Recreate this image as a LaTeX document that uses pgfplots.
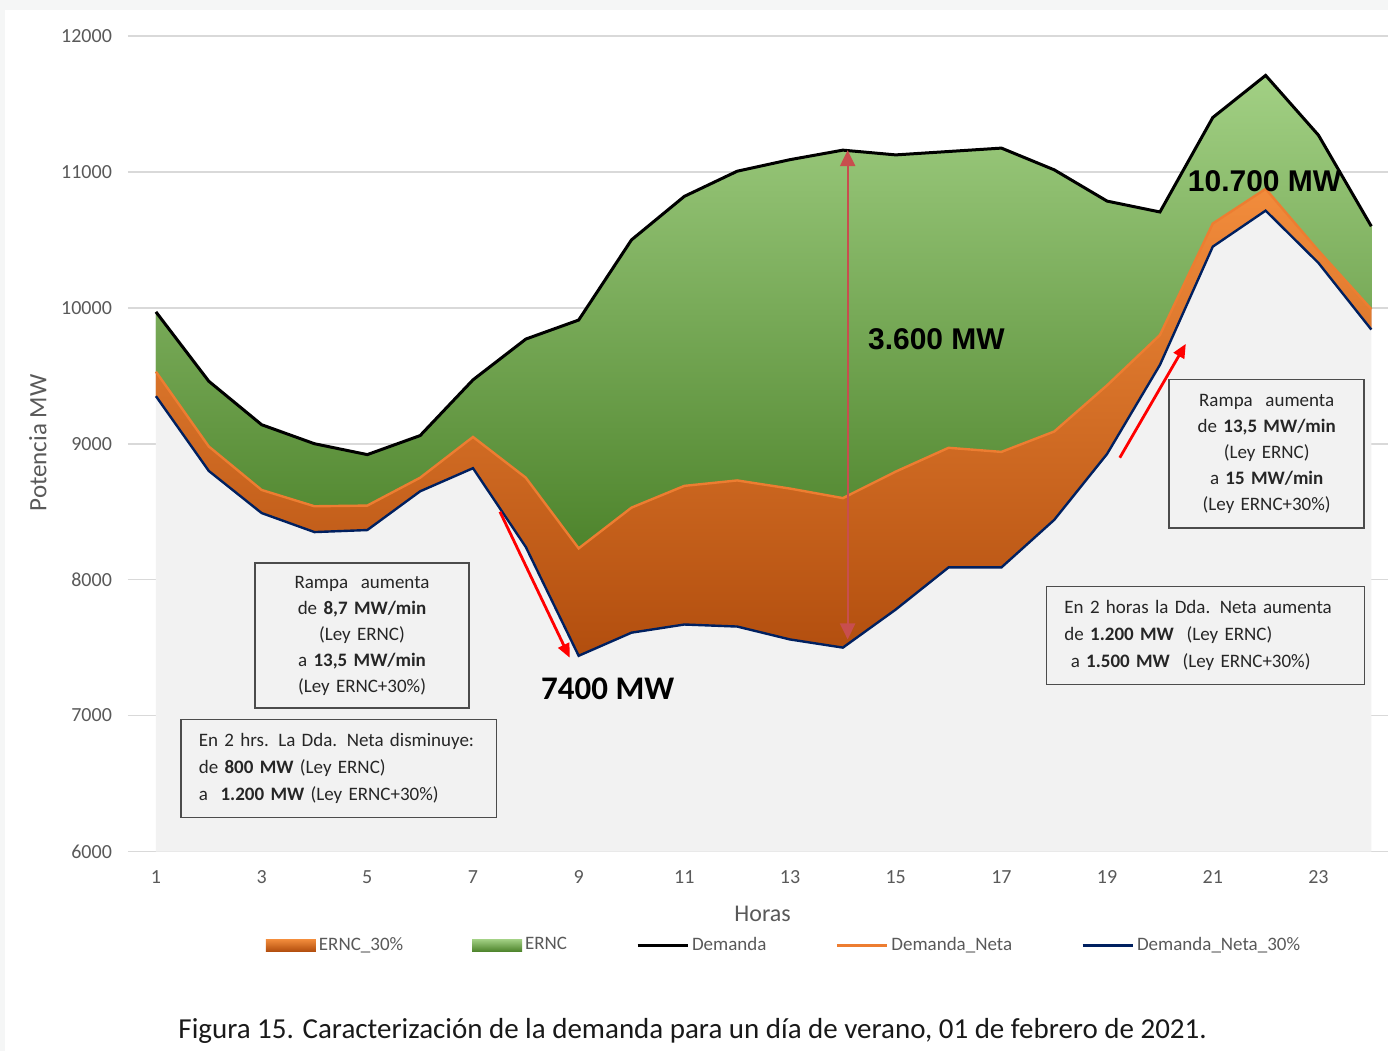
\documentclass[border=0pt]{standalone}
\usepackage{fontspec}
\setmainfont{Carlito}
\newfontfamily\arialfont{Liberation Sans}
\usepackage{pgfplots}
\usepackage{pgfplotstable}
\pgfplotsset{compat=1.18}
\usepgfplotslibrary{fillbetween}
\usetikzlibrary{arrows.meta}

\definecolor{txtgray}{RGB}{89,89,89}
\definecolor{gridgray}{RGB}{217,217,217}
\definecolor{bggray}{RGB}{245,246,246}
\definecolor{basegray}{RGB}{242,242,242}
\definecolor{greentop}{RGB}{162,208,132}
\definecolor{greenbot}{RGB}{78,132,44}
\definecolor{orangetop}{RGB}{242,140,60}
\definecolor{orangebot}{RGB}{178,78,14}
\definecolor{netaorange}{RGB}{237,125,49}
\definecolor{navy}{RGB}{0,32,96}
\definecolor{arrowrose}{RGB}{200,78,78}

% hora, Demanda, Demanda_Neta, Demanda_Neta_30%
\pgfplotstableread{
h dem dn dn30
1 9970 9530 9350
2 9460 8980 8800
3 9140 8660 8490
4 9000 8540 8350
5 8920 8545 8365
6 9060 8750 8650
7 9470 9050 8820
8 9770 8750 8240
9 9910 8230 7440
10 10500 8530 7610
11 10820 8690 7670
12 11005 8730 7655
13 11090 8670 7560
14 11160 8600 7500
15 11125 8795 7780
16 11150 8970 8090
17 11175 8940 8090
18 11015 9090 8440
19 10785 9430 8925
20 10705 9800 9580
21 11400 10620 10450
22 11710 10875 10715
23 11270 10420 10330
24 10600 9990 9840
}\demanda

\begin{document}
\begin{tikzpicture}[x=1pt,y=1pt]
% outer frame strips (top and left), page itself is white
\fill[bggray] (0,521) rectangle (694.5,526);
\fill[bggray] (0,0) rectangle (2.5,526);
\begin{axis}[
    at={(64pt,100pt)}, anchor=south west,
    scale only axis, width=630.5pt, height=408pt,
    xmin=0.47, xmax=24.32, ymin=6000, ymax=12000,
    xtick={1,3,...,23},
    ytick={6000,7000,...,12000},
    scaled y ticks=false,
    axis line style={draw=none},
    major tick length=0pt,
    ymajorgrids, grid style={gridgray, line width=0.8pt},
    /pgf/number format/assume math mode=true,
    /pgf/number format/set thousands separator={},
    tick label style={font=\fontsize{10}{12}\selectfont, text=txtgray},
    yticklabel style={xshift=-4.5pt},
    xticklabel style={yshift=-6pt},
    xlabel={Horas},
    xlabel style={at={(axis description cs:0.5036,-0.076)}, anchor=center,
        font=\fontsize{12}{14}\selectfont, text=txtgray},
    ylabel={Potencia MW},
    ylabel style={at={(axis description cs:-0.0714,0.501)}, anchor=center,
        rotate=0, font=\fontsize{12.5}{14}\selectfont, text=txtgray},
    legend columns=5,
    legend cell align=left,
    legend style={at={(axis description cs:0.521,-0.115)}, anchor=center,
        draw=none, fill=none, font=\fontsize{9.5}{11}\selectfont,
        text=txtgray, nodes={inner sep=1.5pt},
        /tikz/every odd column/.append style={column sep=0pt},
        /tikz/every even column/.append style={column sep=33pt}},
]
% bases (invisible)
\addplot[name path=dem, draw=none, forget plot] table[x=h, y=dem] {\demanda};
\addplot[name path=dn, draw=none, forget plot] table[x=h, y=dn] {\demanda};
\addplot[name path=dn30, draw=none, forget plot] table[x=h, y=dn30] {\demanda};
\addplot[fill=basegray, draw=none, forget plot] table[x=h, y=dn30] {\demanda} \closedcycle;

% areas
\addplot[fill=orangebot, top color=orangetop, bottom color=orangebot,
    legend image code/.code={\fill[draw=none, top color=orangetop, bottom color=orangebot] (0pt,-3pt) rectangle (25pt,3pt);}]
    fill between[of=dn and dn30];
\addlegendentry{ERNC\_30\%}
\addplot[fill=greenbot, top color=greentop, bottom color=greenbot,
    legend image code/.code={\fill[draw=none, top color=greentop, bottom color=greenbot] (0pt,-3pt) rectangle (25pt,3pt);}]
    fill between[of=dem and dn];
\addlegendentry{ERNC}

% lines
\addplot[black, line width=1.5pt,
    legend image code/.code={\draw[black, line width=1.5pt] (0pt,0pt) -- (25pt,0pt);}]
    table[x=h, y=dem] {\demanda};
\addlegendentry{Demanda}
\addplot[netaorange, line width=1.2pt,
    legend image code/.code={\draw[netaorange, line width=1.5pt] (0pt,0pt) -- (25pt,0pt);}]
    table[x=h, y=dn] {\demanda};
\addlegendentry{Demanda\_Neta}
\addplot[navy, line width=1.2pt,
    legend image code/.code={\draw[navy, line width=1.5pt] (0pt,0pt) -- (25pt,0pt);}]
    table[x=h, y=dn30] {\demanda};
\addlegendentry{Demanda\_Neta\_30\%}

% annotations
\draw[red, line width=1.4pt, -{Triangle[length=7pt,width=6pt]}]
    (axis cs:7.51,8500) -- (axis cs:8.83,7426);
\draw[red, line width=1.4pt, -{Triangle[length=7pt,width=6pt]}]
    (axis cs:19.24,8897) -- (axis cs:20.49,9735);
\draw[arrowrose, line width=1.1pt, {Triangle[length=8pt,width=7.5pt]}-{Triangle[length=8pt,width=7.5pt]}]
    (axis cs:14.09,7560) -- (axis cs:14.09,11160);

\node[font=\arialfont\bfseries\fontsize{15}{18}\selectfont] at (axis cs:15.77,9772) {3.600 MW};
\node[font=\arialfont\bfseries\fontsize{15}{18}\selectfont] at (axis cs:21.98,10934) {10.700 MW};
\node[font=\bfseries\fontsize{16.5}{20}\selectfont] at (axis cs:9.55,7199) {7400 MW};

\tikzset{abox/.style={draw=black!70, line width=0.8pt, fill=basegray,
    font=\fontsize{9.5}{13}\selectfont, text=black!85, inner ysep=3pt}}
\node[abox, text width=95pt, inner xsep=6pt, align=center, minimum height=72.5pt]
    at (axis cs:4.90,7588)
    {Rampa\ \ aumenta\\ de \textbf{8,7 MW/min}\\ (Ley ERNC)\\ a \textbf{13,5 MW/min}\\ (Ley ERNC+30\%)};
\node[abox, text width=86pt, inner xsep=5.75pt, align=center, minimum height=74.5pt]
    at (axis cs:22.02,8926)
    {Rampa\ \ aumenta\\ de \textbf{13,5 MW/min}\\ (Ley ERNC)\\ a \textbf{15 MW/min}\\ (Ley ERNC+30\%)};
\node[abox, text width=140pt, inner xsep=9pt, align=left, minimum height=49pt,
    font=\fontsize{9.5}{13.5}\selectfont]
    at (axis cs:4.46,6610)
    {En 2 hrs. La Dda. Neta disminuye:\\ de \textbf{800 MW} (Ley ERNC)\\ a\ \ \textbf{1.200 MW} (Ley ERNC+30\%)};
\node[abox, text width=141pt, inner xsep=9pt, align=left, minimum height=49pt,
    font=\fontsize{9.5}{13.5}\selectfont]
    at (axis cs:20.86,7588)
    {En 2 horas la Dda. Neta aumenta\\ de \textbf{1.200 MW}\ \ (Ley ERNC)\\ \ a \textbf{1.500 MW}\ \ (Ley ERNC+30\%)};
\end{axis}
\node[font=\fontsize{14.5}{17}\selectfont, text=black!90] at (346.5,10)
    {Figura 15. Caracterización de la demanda para un día de verano, 01 de febrero de 2021.};
\end{tikzpicture}
\end{document}
